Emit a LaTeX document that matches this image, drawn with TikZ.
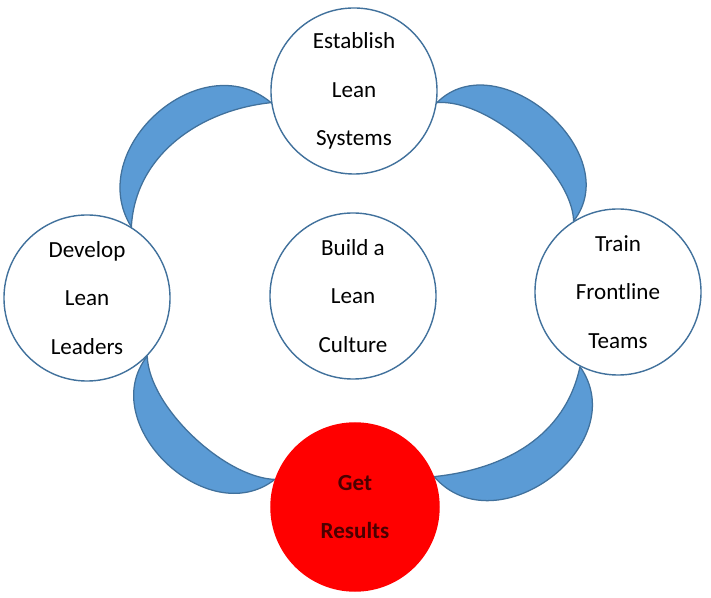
\documentclass[tikz,border=0pt]{standalone}
\usepackage{fontspec}
\setmainfont{Carlito}
\usetikzlibrary{backgrounds}
\definecolor{ringblue}{RGB}{65,113,156}
\definecolor{arcblue}{RGB}{91,155,213}
\definecolor{resulttext}{RGB}{75,0,0}

\begin{document}
\begin{tikzpicture}[x=0.025cm,y=0.025cm,
  stage/.style={circle,draw=ringblue,line width=1pt,fill=white,minimum size=4.15cm,
                inner sep=0pt,align=center,font=\fontsize{16.4}{34.5}\selectfont},
  goal/.style={stage,draw=red,fill=red,minimum size=4.2cm,text=resulttext,
               font=\fontsize{16.4}{34.5}\selectfont\bfseries},
  crescent/.style={fill=arcblue,draw=ringblue,line width=0.9pt,line join=round}]
  \useasboundingbox (0,0) rectangle (711,598);
  % The five stages; the culture sits in the middle of the ring.
  \node[stage] (est) at (354,507) {Establish\\Lean\\Systems};
  \node[stage] (dev) at (87,300) {Develop\\Lean\\Leaders};
  \node[stage] (cul) at (353,302) {Build a\\Lean\\Culture};
  \node[stage] (trn) at (618,306) {Train\\Frontline\\Teams};
  \node[goal] (res) at (355,91) {Get\\Results};

  % Crescent arcs joining neighbouring stages, kept behind the circles.
  \begin{scope}[on background layer]
    \draw[crescent] (dev.58) to[out=122,in=140,looseness=1.25] (est.188)
      to[out=186,in=87,looseness=0.98] (dev.58) -- cycle;
    \draw[crescent] (est.-8) to[out=45,in=52,looseness=1.22] (trn.122)
      to[out=92,in=5,looseness=0.72] (est.-8) -- cycle;
    \draw[crescent] (trn.243) to[out=-55,in=-49,looseness=1.33] (res.21)
      to[out=6,in=-102,looseness=1.0] (trn.243) -- cycle;
    \draw[crescent] (dev.-44) to[out=232,in=218,looseness=1.23] (res.161)
      to[out=178,in=-88,looseness=0.73] (dev.-44) -- cycle;
  \end{scope}
\end{tikzpicture}
\end{document}
